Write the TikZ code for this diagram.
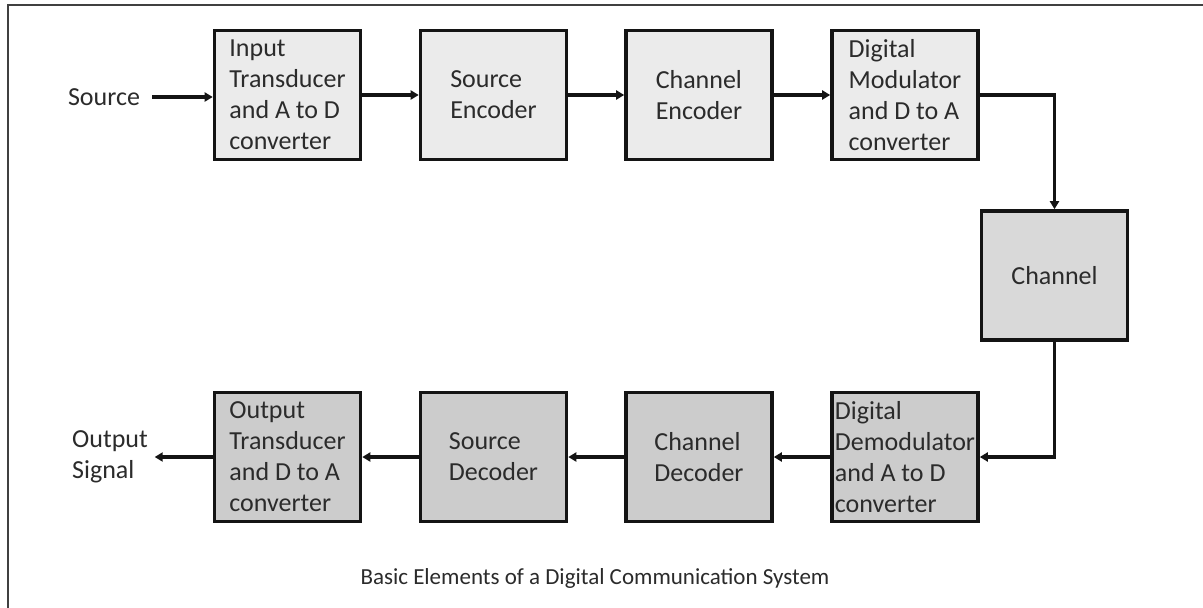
\documentclass[tikz,border=0pt]{standalone}
\usepackage{fontspec}
\setmainfont{Carlito}
\usetikzlibrary{arrows.meta}
\definecolor{toprow}{HTML}{EBEBEB}
\definecolor{chan}{HTML}{D9D9D9}
\definecolor{botrow}{HTML}{CCCCCC}
\definecolor{txt}{HTML}{2B2B2B}
\begin{document}
\begin{tikzpicture}[x=1pt,y=-1pt,
  blk/.style={draw=black!92,line width=3.6pt,minimum width=146pt,minimum height=129pt,
    inner sep=0pt,align=left,font=\fontsize{26}{31}\selectfont,text=txt},
  topblk/.style={blk,fill=toprow},
  botblk/.style={blk,fill=botrow},
  chanblk/.style={blk,fill=chan},
  lbl/.style={font=\fontsize{26}{31}\selectfont,text=txt,align=left,inner sep=0pt},
  conn/.style={line width=3.2pt,black!92,-{Triangle[length=8pt,width=9pt]}}]
\useasboundingbox (0,0) rectangle (1203,608);
\fill[white] (0,0) rectangle (1203,608);
% frame
\draw[line width=2.4pt,black!75] (8,608) -- (8,5) -- (1203,5);
% top row
\node[topblk] (itr) at (287.5,95) {Input\\Transducer\\and A to D\\converter};
\node[topblk] (senc) at (493.5,95) {Source\\Encoder};
\node[topblk] (cenc) at (699,95) {Channel\\Encoder};
\node[topblk] (dmod) at (905,95) {Digital\\Modulator\\and D to A\\converter};
% channel
\node[chanblk] (ch) at (1054.5,275.5) {Channel};
% bottom row
\node[botblk] (ddem) at (905,457) {Digital\\Demodulator\\and A to D\\converter};
\node[botblk] (cdec) at (699,457) {Channel\\Decoder};
\node[botblk] (sdec) at (493.5,457) {Source\\Decoder};
\node[botblk] (otr) at (287.5,457) {Output\\Transducer\\and D to A\\converter};
% labels
\node[lbl] (src) at (104,97) {Source};
\node[lbl] (out) at (110,457) {Output\\Signal};
\node[font=\fontsize{23}{27}\selectfont,text=txt] (cap) at (595,578) {Basic Elements of a Digital Communication System};
% connectors
\draw[conn] (src.east) ++(12,0) coordinate (s0) -- (s0 -| itr.west);
\draw[conn] (itr) -- (senc);
\draw[conn] (senc) -- (cenc);
\draw[conn] (cenc) -- (dmod);
\draw[conn] (dmod.east) -| (ch.north);
\draw[conn] (ch.south) |- (ddem.east);
\draw[conn] (ddem) -- (cdec);
\draw[conn] (cdec) -- (sdec);
\draw[conn] (sdec) -- (otr);
\draw[conn] (otr.west) -- ++(-58,0) coordinate (o0);
\end{tikzpicture}
\end{document}
